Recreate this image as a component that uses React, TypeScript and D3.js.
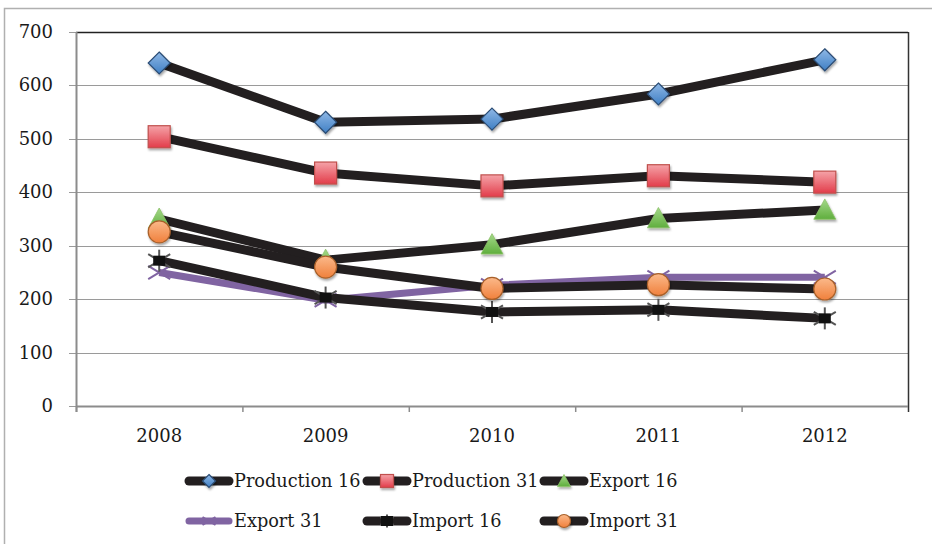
import React from "react";
import * as d3 from "d3";

const years = ["2008", "2009", "2010", "2011", "2012"];
const production16 = [642, 531, 537, 584, 648];
const production31 = [504, 436, 412, 431, 419];
const export16 = [350, 273, 302, 351, 367];
const export31 = [250, 198, 226, 241, 241];
const import16 = [272, 203, 176, 180, 164];
const import31 = [326, 260, 220, 227, 219];
const yTicks = [0, 100, 200, 300, 400, 500, 600, 700];

type Shape = "diamond" | "square" | "triangle" | "x" | "star" | "circle";

interface Series {
  name: string;
  values: number[];
  line: string;
  lineWidth: number;
  shape: Shape;
}

const series: Series[] = [
  { name: "Production 16", values: production16, line: "#231f20", lineWidth: 9, shape: "diamond" },
  { name: "Production 31", values: production31, line: "#231f20", lineWidth: 9, shape: "square" },
  { name: "Export 16", values: export16, line: "#231f20", lineWidth: 9, shape: "triangle" },
  { name: "Export 31", values: export31, line: "#8064a2", lineWidth: 7, shape: "x" },
  { name: "Import 16", values: import16, line: "#231f20", lineWidth: 9, shape: "star" },
  { name: "Import 31", values: import31, line: "#231f20", lineWidth: 9, shape: "circle" },
];

const W = 932, H = 544;
const left = 76, right = 908, top = 32, bottom = 406;
const font = "'DejaVu Serif', serif";

const Marker: React.FC<{ shape: Shape; x: number; y: number; s: number }> = ({ shape, x, y, s }) => {
  const h = s / 2;
  switch (shape) {
    case "diamond":
      return <path d={`M${x},${y - h}L${x + h},${y}L${x},${y + h}L${x - h},${y}Z`} fill="url(#gBlue)" stroke="#2c4d75" strokeWidth={1.2} filter="url(#sh)" />;
    case "square":
      return <rect x={x - h} y={y - h} width={s} height={s} fill="url(#gRed)" stroke="#c0504d" strokeWidth={1.2} filter="url(#sh)" />;
    case "triangle":
      return <path d={`M${x},${y - h}L${x + h},${y + h * 0.85}L${x - h},${y + h * 0.85}Z`} fill="url(#gGreen)" stroke="#8cc168" strokeWidth={0.8} filter="url(#sh)" />;
    case "circle":
      return <circle cx={x} cy={y} r={h} fill="url(#gOrange)" stroke="#a8602a" strokeWidth={1.2} filter="url(#sh)" />;
    case "x":
      return (
        <g stroke="#8064a2" strokeWidth={2}>
          <line x1={x - h} y1={y - h * 0.6} x2={x + h} y2={y + h * 0.6} />
          <line x1={x - h} y1={y + h * 0.6} x2={x + h} y2={y - h * 0.6} />
        </g>
      );
    case "star":
      return (
        <g stroke="#555" strokeWidth={2}>
          <line x1={x - h} y1={y - h * 0.6} x2={x + h} y2={y + h * 0.6} />
          <line x1={x - h} y1={y + h * 0.6} x2={x + h} y2={y - h * 0.6} />
          <line x1={x} y1={y - h} x2={x} y2={y + h} />
          <rect x={x - 6} y={y - 5} width={12} height={10} fill="#111" stroke="none" />
        </g>
      );
  }
};

export default function App() {
  const x = d3.scaleBand<string>().domain(years).range([left, right]);
  const y = d3.scaleLinear().domain([0, 700]).range([bottom, top]);
  const cx = (d: string) => (x(d) ?? 0) + x.bandwidth() / 2;
  const line = d3.line<number>().x((_, i) => cx(years[i])).y(v => y(v));

  const legendCols = [185, 363, 540];
  const legendRows = [481, 521];

  return (
    <svg width={W} height={H} style={{ position: "absolute", left: 0, top: 0 }}>
      <defs>
        <filter id="sh" x="-50%" y="-50%" width="200%" height="200%">
          <feDropShadow dx="1" dy="2" stdDeviation="1.2" floodColor="#000" floodOpacity="0.35" />
        </filter>
        <linearGradient id="gBlue" x1="0" y1="0" x2="0" y2="1">
          <stop offset="0" stopColor="#8fb8e6" />
          <stop offset="1" stopColor="#3f7fc4" />
        </linearGradient>
        <linearGradient id="gRed" x1="0" y1="0" x2="0" y2="1">
          <stop offset="0" stopColor="#f5a3a8" />
          <stop offset="1" stopColor="#e23c4a" />
        </linearGradient>
        <linearGradient id="gGreen" x1="0" y1="0" x2="0" y2="1">
          <stop offset="0" stopColor="#a5d98a" />
          <stop offset="1" stopColor="#5fae3d" />
        </linearGradient>
        <linearGradient id="gOrange" x1="0" y1="0" x2="0" y2="1">
          <stop offset="0" stopColor="#fbb98a" />
          <stop offset="1" stopColor="#f0803c" />
        </linearGradient>
      </defs>
      <rect x={0} y={0} width={W} height={H} fill="#fff" />
      <rect x={4.5} y={8.5} width={W + 10} height={H + 10} fill="none" stroke="#b0b0b0" strokeWidth={1.5} />

      {yTicks.map(t => (
        <g key={t}>
          <line x1={left - 7} x2={right} y1={Math.round(y(t)) + 0.5} y2={Math.round(y(t)) + 0.5} stroke="#9a9a9a" strokeWidth={1.2} />
          <text x={53} y={y(t) + 6} textAnchor="end" fontFamily={font} fontSize={18} fill="#1a1a1a">{t}</text>
        </g>
      ))}
      <line x1={left} x2={right} y1={top + 0.5} y2={top + 0.5} stroke="#222" strokeWidth={1.5} />
      <line x1={right + 0.5} x2={right + 0.5} y1={top} y2={bottom + 6} stroke="#333" strokeWidth={1.5} />
      <line x1={left + 0.5} x2={left + 0.5} y1={top} y2={bottom + 6} stroke="#8c8c8c" strokeWidth={2} />
      <line x1={left} x2={right} y1={bottom + 0.5} y2={bottom + 0.5} stroke="#8c8c8c" strokeWidth={2} />
      {years.map(yr => (
        <g key={yr}>
          <line x1={(x(yr) ?? 0) + 0.5} x2={(x(yr) ?? 0) + 0.5} y1={bottom} y2={bottom + 6} stroke="#8c8c8c" strokeWidth={1.5} />
          <text x={cx(yr)} y={442} textAnchor="middle" fontFamily={font} fontSize={18} fill="#1a1a1a">{yr}</text>
        </g>
      ))}

      {series.map(s => (
        <g key={s.name}>
          <path d={line(s.values) ?? ""} fill="none" stroke={s.line} strokeWidth={s.lineWidth} strokeLinejoin="round" />
          {s.values.map((v, i) => (
            <Marker key={i} shape={s.shape} x={cx(years[i])} y={y(v)} s={22} />
          ))}
        </g>
      ))}

      {series.map((s, i) => {
        const lx = legendCols[i % 3];
        const ly = legendRows[Math.floor(i / 3)];
        return (
          <g key={s.name}>
            <line x1={lx + 4} x2={lx + 44} y1={ly} y2={ly} stroke={s.line} strokeWidth={s.lineWidth} strokeLinecap="round" />
            <Marker shape={s.shape} x={lx + 24} y={ly} s={13} />
            <text x={lx + 49} y={ly + 6} fontFamily={font} fontSize={17.7} fill="#1a1a1a">{s.name}</text>
          </g>
        );
      })}
    </svg>
  );
}
